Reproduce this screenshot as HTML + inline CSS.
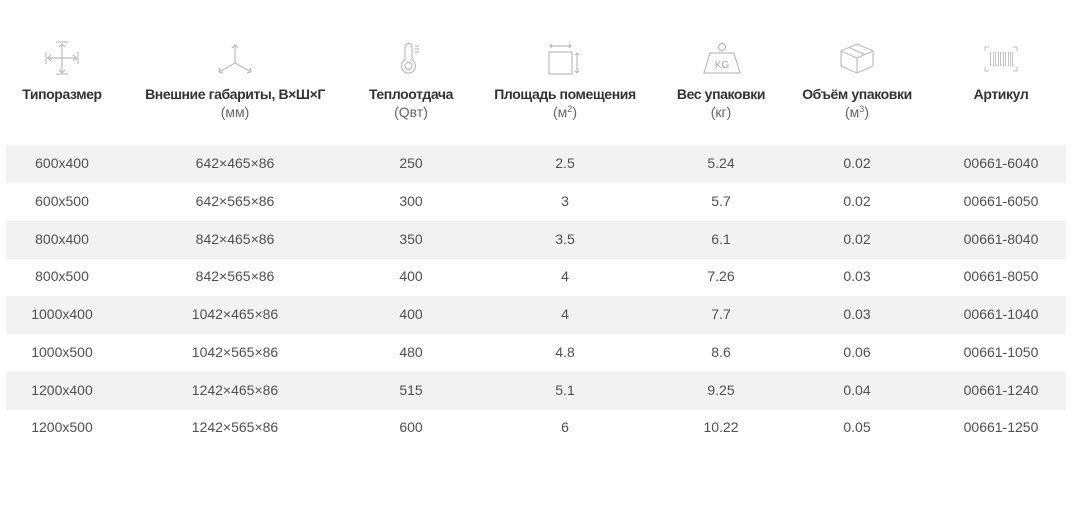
<!DOCTYPE html>
<html><head><meta charset="utf-8">
<style>
html,body{margin:0;padding:0;background:#fff;}
body{width:1072px;height:516px;position:relative;overflow:hidden;font-family:"Liberation Sans",sans-serif;}
.h{position:absolute;top:85px;width:220px;margin-left:-110px;text-align:center;font-weight:bold;font-size:14px;color:#333;line-height:18px;letter-spacing:-0.4px;}
.h span{display:block;font-weight:normal;color:#666;font-size:14px;letter-spacing:0;}
.h sup{font-size:9px;vertical-align:5px;line-height:0;}
.row{position:absolute;left:6px;width:1060px;height:38px;}
.row.s{background:#f2f2f2;}
.c{position:absolute;top:0;height:38px;line-height:36px;width:160px;margin-left:-80px;text-align:center;font-size:14px;color:#505050;}
svg{position:absolute;left:0;top:0;}
</style></head><body>
<svg width="1072" height="120" fill="none" stroke="#bdbdbd" stroke-width="1.2">
 <!-- move icon -->
 <line x1="62" y1="44" x2="62" y2="73"/><line x1="47" y1="58" x2="77" y2="58"/>
 <line x1="56" y1="42" x2="68" y2="42"/><line x1="56" y1="74" x2="68" y2="74"/>
 <line x1="46" y1="52" x2="46" y2="64"/><line x1="78" y1="52" x2="78" y2="64"/>
 <polyline points="59,47 62,44 65,47"/><polyline points="59,70 62,73 65,70"/>
 <polyline points="51,55 48,58 51,61"/><polyline points="73,55 76,58 73,61"/>
 <!-- axes -->
 <line x1="235" y1="63" x2="235" y2="45"/><line x1="235" y1="63" x2="219" y2="72"/><line x1="235" y1="63" x2="251" y2="72"/>
 <polyline points="232,48 235,45 238,48"/><polyline points="220,68 219,72 223,73"/><polyline points="247,73 251,72 250,68"/>
 <!-- thermometer -->
 <path d="M405,60 V47 a3.5,3.5 0 0 1 7,0 V60 a7,7 0 1 1 -7,0 Z"/>
 <circle cx="408.5" cy="66" r="3.5"/>
 <line x1="415" y1="46" x2="419" y2="46"/><line x1="415" y1="49" x2="419" y2="49"/><line x1="415" y1="52" x2="419" y2="52"/>
 <!-- area -->
 <rect x="549" y="52" width="23" height="22"/>
 <line x1="550" y1="46" x2="571" y2="46"/><polyline points="552,44 550,46 552,48"/><polyline points="569,44 571,46 569,48"/>
 <line x1="577" y1="53" x2="577" y2="73"/><polyline points="575,55 577,53 579,55"/><polyline points="575,71 577,73 579,71"/>
 <!-- weight -->
 <circle cx="722" cy="47" r="3.5"/>
 <path d="M710,53 H734 L740,73 H704 Z"/>
 <text x="722" y="68" text-anchor="middle" font-family="Liberation Sans, sans-serif" font-size="10" fill="#aaa" stroke="none">KG</text>
 <!-- box -->
 <path d="M857,44 L873,51 V66 L857,73 L841,66 V51 Z"/>
 <path d="M841,51 L857,58 L873,51 M857,58 V73 M849,47.5 L865,54.5"/>
 <!-- barcode -->
 <path d="M985,51 V47 H989 M1013,47 H1017 V51 M985,67 V71 H989 M1013,71 H1017 V67" stroke-width="1"/>
</svg>
<svg width="1072" height="120" shape-rendering="crispEdges" fill="#c4c4c4">
 <rect x="990" y="52" width="1" height="14"/><rect x="993" y="52" width="1" height="14"/><rect x="995" y="52" width="1" height="14"/>
 <rect x="998" y="52" width="1" height="14"/><rect x="1000" y="52" width="1" height="14"/><rect x="1003" y="52" width="1" height="14"/>
 <rect x="1005" y="52" width="1" height="14"/><rect x="1008" y="52" width="1" height="14"/><rect x="1010" y="52" width="1" height="14"/>
 <rect x="1012" y="52" width="1" height="14"/>
</svg>

<div class="h" style="left:62px">Типоразмер</div>
<div class="h" style="left:235px">Внешние габариты, В×Ш×Г<span>(мм)</span></div>
<div class="h" style="left:411px">Теплоотдача<span>(Qвт)</span></div>
<div class="h" style="left:565px">Площадь помещения<span>(м<sup>2</sup>)</span></div>
<div class="h" style="left:721px">Вес упаковки<span>(кг)</span></div>
<div class="h" style="left:857px">Объём упаковки<span>(м<sup>3</sup>)</span></div>
<div class="h" style="left:1001px">Артикул</div>

<div class="row s" style="top:145px"><div class="c" style="left:56px">600x400</div><div class="c" style="left:229px">642×465×86</div><div class="c" style="left:405px">250</div><div class="c" style="left:559px">2.5</div><div class="c" style="left:715px">5.24</div><div class="c" style="left:851px">0.02</div><div class="c" style="left:995px">00661-6040</div></div>
<div class="row" style="top:183px"><div class="c" style="left:56px">600x500</div><div class="c" style="left:229px">642×565×86</div><div class="c" style="left:405px">300</div><div class="c" style="left:559px">3</div><div class="c" style="left:715px">5.7</div><div class="c" style="left:851px">0.02</div><div class="c" style="left:995px">00661-6050</div></div>
<div class="row s" style="top:221px"><div class="c" style="left:56px">800x400</div><div class="c" style="left:229px">842×465×86</div><div class="c" style="left:405px">350</div><div class="c" style="left:559px">3.5</div><div class="c" style="left:715px">6.1</div><div class="c" style="left:851px">0.02</div><div class="c" style="left:995px">00661-8040</div></div>
<div class="row" style="top:258px"><div class="c" style="left:56px">800x500</div><div class="c" style="left:229px">842×565×86</div><div class="c" style="left:405px">400</div><div class="c" style="left:559px">4</div><div class="c" style="left:715px">7.26</div><div class="c" style="left:851px">0.03</div><div class="c" style="left:995px">00661-8050</div></div>
<div class="row s" style="top:296px"><div class="c" style="left:56px">1000x400</div><div class="c" style="left:229px">1042×465×86</div><div class="c" style="left:405px">400</div><div class="c" style="left:559px">4</div><div class="c" style="left:715px">7.7</div><div class="c" style="left:851px">0.03</div><div class="c" style="left:995px">00661-1040</div></div>
<div class="row" style="top:334px"><div class="c" style="left:56px">1000x500</div><div class="c" style="left:229px">1042×565×86</div><div class="c" style="left:405px">480</div><div class="c" style="left:559px">4.8</div><div class="c" style="left:715px">8.6</div><div class="c" style="left:851px">0.06</div><div class="c" style="left:995px">00661-1050</div></div>
<div class="row s" style="top:372px"><div class="c" style="left:56px">1200x400</div><div class="c" style="left:229px">1242×465×86</div><div class="c" style="left:405px">515</div><div class="c" style="left:559px">5.1</div><div class="c" style="left:715px">9.25</div><div class="c" style="left:851px">0.04</div><div class="c" style="left:995px">00661-1240</div></div>
<div class="row" style="top:409px"><div class="c" style="left:56px">1200x500</div><div class="c" style="left:229px">1242×565×86</div><div class="c" style="left:405px">600</div><div class="c" style="left:559px">6</div><div class="c" style="left:715px">10.22</div><div class="c" style="left:851px">0.05</div><div class="c" style="left:995px">00661-1250</div></div>
</body></html>
